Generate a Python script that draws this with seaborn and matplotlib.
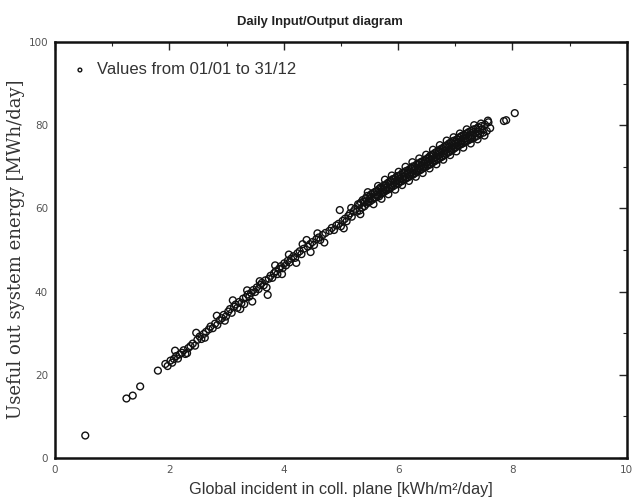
import matplotlib
matplotlib.use("Agg")
import matplotlib.pyplot as plt
import seaborn as sns
import pandas as pd
from matplotlib.ticker import MultipleLocator

# Global incident irradiation in collector plane [kWh/m2/day] and useful energy [MWh/day]
irr_low = [0.53, 1.25, 1.36, 1.49, 1.80, 1.93, 1.97, 2.02, 2.05, 2.08, 2.12, 2.15, 2.18, 2.22, 2.25,
           2.28, 2.33, 2.37, 2.41, 2.45, 2.49, 2.53, 2.56, 2.60, 2.64, 2.69, 2.72, 2.76, 2.80, 2.84,
           2.88, 2.92, 2.95, 2.99, 3.03, 3.06, 3.09, 3.13, 3.16, 3.19, 3.22, 3.26, 3.29, 3.31, 3.34,
           3.37, 3.40, 3.43, 3.47, 3.50, 3.53, 3.56, 3.59, 3.62, 3.65, 3.68, 3.72, 3.74, 3.77, 3.80,
           3.83, 3.86, 3.89, 3.92, 3.95, 3.98, 4.01, 4.04, 4.07, 4.10, 4.13, 4.17, 4.20, 4.24, 4.28,
           4.31, 4.35, 4.40, 4.42, 4.46, 4.50, 4.53, 4.57, 4.61, 4.64, 4.68, 4.73, 4.80, 4.84, 4.88,
           4.92, 4.96, 4.98, 5.00, 5.03, 5.07, 5.10, 5.13, 5.16, 5.19, 5.22, 5.25]
out_low = [5.4, 14.3, 15.0, 17.2, 21.0, 22.6, 22.1, 23.4, 22.9, 23.8, 24.5, 23.9, 24.9, 25.3, 25.9,
           25.0, 26.4, 26.9, 27.5, 27.0, 28.4, 29.2, 28.6, 29.8, 30.3, 30.9, 31.6, 31.2, 32.3, 32.0,
           33.1, 33.6, 34.4, 34.0, 35.2, 35.8, 34.9, 36.4, 36.9, 36.1, 37.5, 37.2, 38.3, 37.0, 38.6,
           39.3, 38.8, 39.7, 40.4, 39.9, 41.0, 40.6, 41.6, 42.1, 41.5, 42.7, 39.2, 43.1, 43.8, 43.3,
           44.4, 44.9, 44.2, 45.5, 46.1, 45.6, 46.8, 46.3, 47.4, 47.0, 47.9, 48.5, 48.1, 49.2, 49.7,
           49.0, 50.3, 52.4, 50.8, 51.4, 51.9, 51.2, 52.6, 53.0, 52.4, 53.6, 54.1, 54.6, 55.3, 54.8,
           55.9, 56.3, 59.6, 55.7, 57.0, 57.5, 56.9, 58.2, 58.8, 58.0, 59.3, 59.9]

irr_a = [5.28, 5.30, 5.32, 5.33, 5.35, 5.37, 5.38, 5.40, 5.41, 5.43, 5.45, 5.46, 5.48, 5.50, 5.51,
         5.53, 5.55, 5.56, 5.58, 5.60]
out_a = [59.2, 61.0, 60.8, 59.5, 61.4, 60.2, 62.0, 61.6, 60.5, 62.4, 61.1, 63.0, 61.5, 62.9, 61.7,
         63.4, 62.1, 63.7, 62.5, 64.0]

irr_b = [5.61, 5.63, 5.64, 5.66, 5.67, 5.69, 5.70, 5.72, 5.73, 5.75, 5.76, 5.78, 5.79, 5.81, 5.82,
         5.84, 5.85, 5.87, 5.88, 5.90, 5.91, 5.93, 5.94, 5.96, 5.97, 5.99]
out_b = [62.6, 64.2, 63.0, 64.6, 62.9, 65.0, 63.5, 64.9, 63.7, 65.5, 64.0, 65.6, 64.3, 66.0, 64.5,
         66.3, 64.8, 66.6, 65.1, 67.0, 65.3, 67.1, 65.6, 67.4, 66.0, 67.8]

irr_c = [6.00, 6.02, 6.03, 6.05, 6.06, 6.08, 6.09, 6.11, 6.12, 6.14, 6.15, 6.17, 6.18, 6.20, 6.21,
         6.23, 6.24, 6.26, 6.27, 6.29, 6.30, 6.32, 6.33, 6.35, 6.36, 6.38, 6.39, 6.41, 6.42, 6.44,
         6.45, 6.47, 6.48, 6.50]
out_c = [65.9, 67.8, 66.4, 68.1, 66.5, 68.6, 66.9, 68.5, 67.0, 69.0, 67.3, 69.1, 67.5, 69.4, 67.8,
         69.7, 68.0, 70.1, 68.2, 70.0, 68.5, 70.5, 68.8, 70.6, 69.0, 71.0, 69.2, 71.2, 69.5, 71.4,
         69.8, 71.6, 70.0, 71.9]

irr_d = [6.51, 6.53, 6.54, 6.56, 6.57, 6.59, 6.60, 6.62, 6.63, 6.65, 6.66, 6.68, 6.69, 6.71, 6.72,
         6.74, 6.75, 6.77, 6.78, 6.80, 6.81, 6.83, 6.84, 6.86, 6.87, 6.89, 6.90, 6.92, 6.93, 6.95,
         6.96, 6.98, 6.99]
out_d = [70.2, 72.2, 70.5, 72.6, 70.6, 72.9, 71.0, 73.0, 71.3, 73.4, 71.5, 73.6, 71.8, 73.9, 72.0,
         74.2, 72.3, 74.4, 72.5, 74.7, 72.8, 75.0, 73.1, 75.2, 73.4, 75.6, 73.6, 75.8, 73.9, 76.1,
         74.2, 76.3, 74.5]

irr_e = [7.01, 7.03, 7.04, 7.06, 7.07, 7.09, 7.10, 7.12, 7.13, 7.15, 7.16, 7.18, 7.19, 7.21, 7.22,
         7.24, 7.26, 7.28, 7.30, 7.32, 7.34, 7.36, 7.38, 7.40, 7.43, 7.46, 7.49, 7.52, 7.55, 7.58,
         7.61, 7.85, 7.89, 8.04]
out_e = [74.7, 76.6, 75.0, 77.0, 75.2, 77.2, 75.4, 77.5, 75.6, 77.6, 75.9, 77.9, 76.1, 78.1, 76.3,
         78.4, 76.6, 78.6, 76.8, 79.0, 77.1, 79.1, 77.4, 79.5, 77.8, 79.8, 78.2, 80.1, 78.6, 80.7,
         79.3, 81.0, 81.2, 82.9]

irr_core = [5.42, 5.52, 5.62, 5.68, 5.74, 5.80, 5.86, 5.92, 5.98, 6.04, 6.10, 6.16, 6.22, 6.28, 6.34,
            6.40, 6.46, 6.52, 6.58, 6.64, 6.70, 6.76, 6.82, 6.88, 6.94, 7.00, 7.05, 7.11, 7.17, 7.23,
            7.29, 7.35, 7.41, 7.47]
out_core = [61.5, 62.5, 63.3, 63.9, 64.5, 65.0, 65.6, 66.1, 66.7, 67.1, 67.6, 68.2, 68.7, 69.2, 69.7,
            70.2, 70.7, 71.2, 71.7, 72.2, 72.8, 73.4, 73.9, 74.5, 75.0, 75.5, 75.9, 76.3, 76.8, 77.2,
            77.6, 78.1, 78.5, 79.0]

irr_spread = [2.10, 2.31, 2.47, 2.62, 2.83, 2.97, 3.11, 3.24, 3.36, 3.45, 3.58, 3.70, 3.85, 3.97,
              4.09, 4.22, 4.33, 4.47, 4.59, 4.71, 5.05, 5.18, 5.34, 5.47, 5.57, 5.65, 5.71, 5.77,
              5.83, 5.89, 5.95, 6.01, 6.07, 6.13, 6.19, 6.25, 6.31, 6.37, 6.43, 6.49, 6.55, 6.61,
              6.67, 6.73, 6.79, 6.85, 6.91, 6.97, 7.02, 7.08, 7.14, 7.20, 7.27, 7.33, 7.39, 7.45,
              7.51, 7.57]
out_spread = [25.8, 25.2, 30.1, 28.9, 34.2, 33.0, 37.9, 35.8, 40.3, 37.6, 42.5, 41.0, 46.3, 44.2,
              48.9, 46.9, 51.4, 49.5, 54.0, 51.8, 55.2, 60.1, 58.6, 63.9, 61.0, 65.4, 62.3, 66.9,
              63.4, 67.9, 64.5, 68.8, 65.6, 70.0, 66.6, 71.1, 67.6, 72.0, 68.5, 72.9, 69.6, 74.1,
              70.6, 75.2, 71.7, 76.3, 72.8, 77.1, 73.7, 78.0, 74.6, 79.0, 75.6, 80.0, 76.6, 80.4,
              77.5, 81.1]

x_ticks = [0, 2, 4, 6, 8, 10]
y_ticks = [0, 20, 40, 60, 80, 100]

df = pd.DataFrame({
    "irr": irr_low + irr_a + irr_b + irr_c + irr_d + irr_e + irr_core + irr_spread,
    "out": out_low + out_a + out_b + out_c + out_d + out_e + out_core + out_spread,
})

sns.set_style("white")
fig = plt.figure(figsize=(6.39, 5.04), dpi=100)
ax = fig.add_axes([0.086, 0.0913, 0.895, 0.8254])

sns.scatterplot(data=df, x="irr", y="out", ax=ax, marker="o", s=24,
                facecolors="none", edgecolor="#111111", linewidth=1.0,
                label="Values from 01/01 to 31/12")

ax.set_xlim(0, 10)
ax.set_ylim(0, 100)
ax.set_xticks(x_ticks)
ax.set_yticks(y_ticks)
ax.set_xticklabels([str(t) for t in x_ticks])
ax.set_yticklabels([str(t) for t in y_ticks])
ax.xaxis.set_minor_locator(MultipleLocator(1))
ax.yaxis.set_minor_locator(MultipleLocator(10))
ax.tick_params(which="major", direction="in", length=6, width=1, top=True, right=True,
               labelsize=7.5, labelcolor="#555555", pad=5)
ax.tick_params(which="minor", direction="in", length=3, width=0.8, top=True, right=True)
for sp in ax.spines.values():
    sp.set_linewidth(1.8)
    sp.set_color("#111111")

ax.set_xlabel("Global incident in coll. plane [kWh/m²/day]", fontsize=11.7,
              family="Liberation Sans", color="#333333", labelpad=5)
ax.set_ylabel("Useful out system energy [MWh/day]", fontsize=13,
              family="DejaVu Serif", color="#333333")
ax.yaxis.set_label_coords(-0.052, 0.502)

leg = ax.legend(loc="upper left", bbox_to_anchor=(0.032, 0.951), frameon=False,
                handlelength=0.8, handletextpad=0.65, borderpad=0, borderaxespad=0,
                markerscale=0.55, prop={"family": "Liberation Sans", "size": 12})
for t in leg.get_texts():
    t.set_color("#333333")

fig.text(0.5, 1 - 22.5 / 504, "Daily Input/Output diagram", ha="center", va="center",
         fontsize=9.4, fontweight="bold", family="Liberation Sans", color="#222222")

fig.savefig("out.png", dpi=100)
